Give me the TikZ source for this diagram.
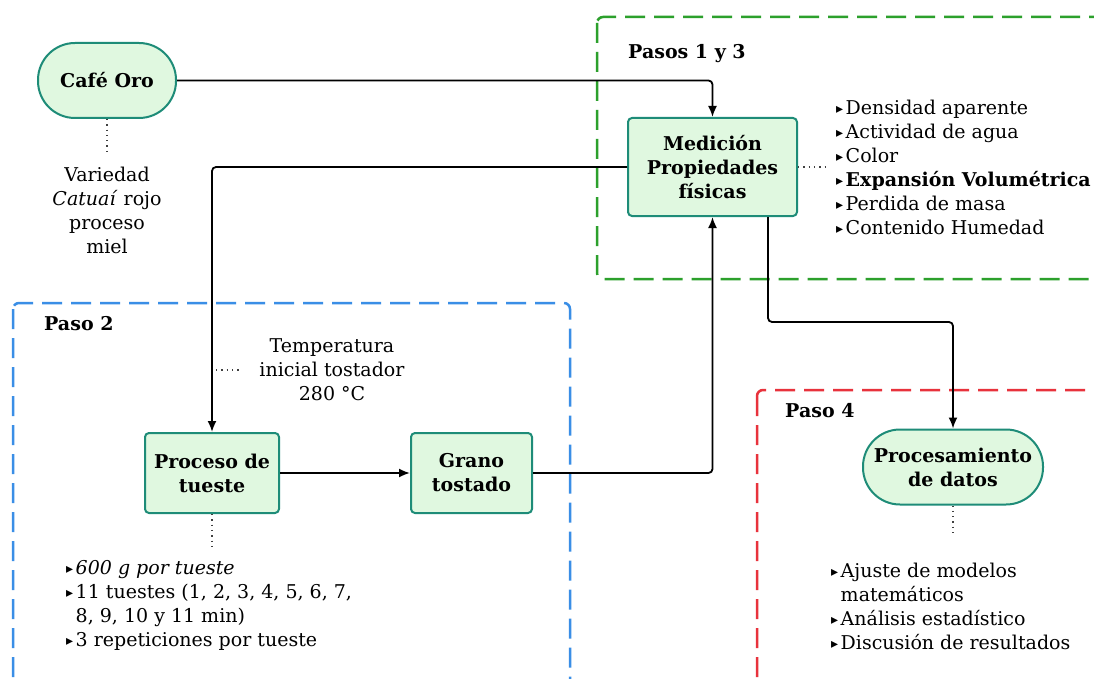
\documentclass[tikz,border=0pt]{standalone}
\usepackage{fontspec}
\setmainfont{DejaVu Serif}
\newfontfamily\symf{DejaVu Sans}
\usetikzlibrary{arrows.meta}
\definecolor{boxfill}{HTML}{E0F8E0}
\definecolor{boxdraw}{HTML}{1E8C78}
\definecolor{grn}{HTML}{2CA02C}
\definecolor{blu}{HTML}{3A8EE6}
\definecolor{rd}{HTML}{E8323C}
\newcommand{\bul}{\raisebox{1pt}{\symf\fontsize{14}{14}\selectfont ▸}\hspace{2.5pt}}
\begin{document}
\begin{tikzpicture}[x=1pt,y=-1pt,
 stepbox/.style={draw=boxdraw, fill=boxfill, line width=2pt, rounded corners=4pt, align=center, font=\bfseries\fontsize{19}{24}\selectfont, inner sep=0pt},
 pill/.style={stepbox, rounded corners=37pt},
 conn/.style={draw=black, line width=1.8pt, rounded corners=4pt, -{Latex[length=11pt,width=9pt]}},
 dots/.style={draw=black!75, line width=1.3pt, dash pattern=on 1.3pt off 4pt},
 txt/.style={font=\fontsize{19}{24}\selectfont, align=center, inner sep=0pt},
 list/.style={font=\fontsize{19}{24}\selectfont, align=left, inner sep=0pt, anchor=west},
 group/.style={line width=2.5pt, dash pattern=on 20pt off 9pt, rounded corners=6pt},
 title/.style={font=\bfseries\fontsize{19}{24}\selectfont, anchor=west, inner sep=0pt}]
\useasboundingbox[fill=white] (0,0) rectangle (1094,679);
\clip (0,0) rectangle (1094,679);
% groups
\draw[group, draw=grn] (597,17) rectangle (1120,279);
\draw[group, draw=blu] (13,303) rectangle (570,720);
\draw[group, draw=rd] (757,390) rectangle (1120,720);
\node[title] (t13) at (628,54) {Pasos 1 y 3};
\node[title] (t2) at (44,324) {Paso 2};
\node[title] (t4) at (785,411) {Paso 4};
% nodes
\node[pill, minimum width=138pt, minimum height=75pt] (cafe) at (107,80.5) {Café Oro};
\node[stepbox, minimum width=169pt, minimum height=98pt] (med) at (712.5,167) {Medición\\Propiedades\\físicas};
\node[stepbox, minimum width=134pt, minimum height=80pt] (proc) at (212,473) {Proceso de\\tueste};
\node[stepbox, minimum width=121pt, minimum height=80pt] (grano) at (471.5,473) {Grano\\tostado};
\node[pill, minimum width=180pt, minimum height=75pt] (pd) at (953,467) {Procesamiento\\de datos};
% texts
\node[txt] (var) at (107,210) {Variedad\\\textit{Catuaí} rojo\\proceso\\miel};
\node[txt] (temp) at (332,370) {Temperatura\\inicial tostador\\280 °C};
\node[list] (medlist) at (836,167.5) {\bul Densidad aparente\\\bul Actividad de agua\\\bul Color\\\bul \textbf{Expansión Volumétrica}\\\bul Perdida de masa\\\bul Contenido Humedad};
\node[list] (proclist) at (66,605) {\bul \textit{600 g por tueste}\\\bul 11 tuestes (1, 2, 3, 4, 5, 6, 7,\\\phantom{\bul}8, 9, 10 y 11 min)\\\bul 3 repeticiones por tueste};
\node[list] (pdlist) at (831,606) {\bul Ajuste de modelos\\\phantom{\bul}matemáticos\\\bul Análisis estadístico\\\bul Discusión de resultados};
% coordinates
\coordinate (cafedot) at (107,155);
\coordinate (meddot) at (825,167);
\coordinate (tempA) at (216,370);
\coordinate (tempB) at (240,370);
\coordinate (procdot) at (212,548);
\coordinate (pddot) at (953,533);
\coordinate (medout) at ([xshift=55.5pt]med.south);
\coordinate (turn) at (953,322);
% connectors
\draw[conn] (cafe.east) -| (med.north);
\draw[conn] (med.west) -| (proc.north);
\draw[conn] (proc.east) -- (grano.west);
\draw[conn] (grano.east) -| (med.south);
\draw[conn] (medout) |- (turn) -- (pd.north);
% dotted
\draw[dots] (cafe.south) -- (cafedot);
\draw[dots] (med.east) -- (meddot);
\draw[dots] (tempA) -- (tempB);
\draw[dots] (proc.south) -- (procdot);
\draw[dots] (pd.south) -- (pddot);
\end{tikzpicture}
\end{document}
